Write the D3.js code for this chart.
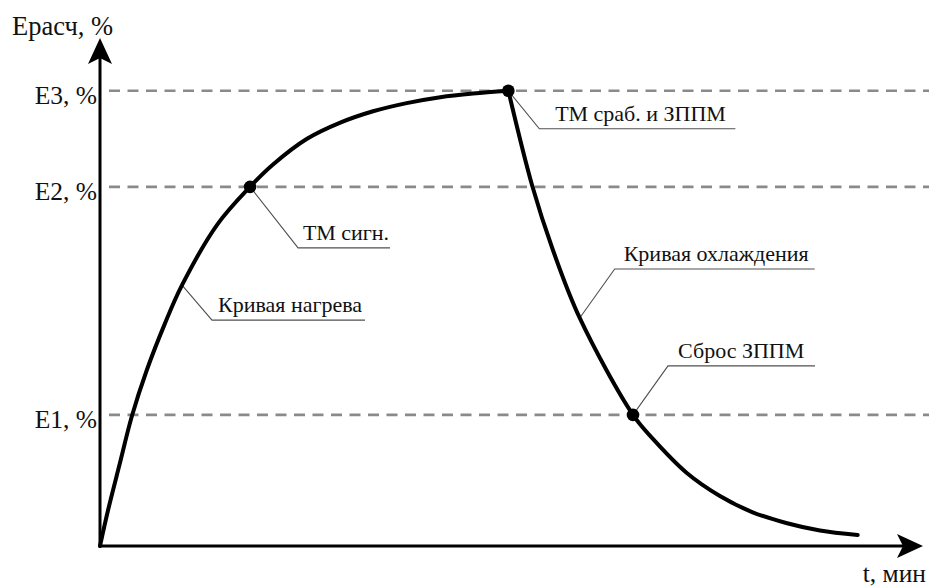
<!DOCTYPE html>
<html>
<head>
<meta charset="utf-8">
<script src="https://cdn.jsdelivr.net/npm/d3@7"></script>
<style>
  html, body { margin: 0; padding: 0; background: #fff; }
  svg { display: block; }
</style>
</head>
<body>
<svg id="chart" width="929" height="587"></svg>
<script>
// ---- data ----
// heating curve: time, min / Ерасч, %
const heatT = [0, 1.0, 2.4, 3.9, 5.7, 7.9, 10.0, 14.3, 18.3, 21.1, 25.2, 29.3, 33.3, 37.4, 41.5, 45.5, 49.8];
const heatE = [0, 8.0, 18.0, 28.6, 38.6, 48.8, 57.3, 70.6, 78.9, 83.8, 89.4, 93.0, 95.5, 97.3, 98.6, 99.4, 100];
// cooling curve
const coolT = [49.8, 52.7, 55.2, 58.5, 65.0, 67.4, 71.6, 75.6, 79.6, 83.8, 87.8, 92.4];
const coolE = [100, 79.2, 65.2, 50.1, 28.8, 23.6, 16.0, 11.0, 7.4, 5.0, 3.4, 2.4];
// threshold levels
const levelLabels = ["E1, %", "E2, %", "E3, %"];
const levelValues = [28.8, 78.9, 100];
// marked points
const pointT = [18.3, 49.8, 65.0];
const pointE = [78.9, 100, 28.8];
// annotation texts and the point each one refers to
const noteTexts = ["ТМ сигн.", "Кривая нагрева", "ТМ сраб. и ЗППМ", "Кривая охлаждения", "Сброс ЗППМ"];
const noteT = [18.3, 10.0, 49.8, 58.5, 65.0];
const noteE = [78.9, 57.3, 100, 50.1, 28.8];
const axisLabelY = "Ерасч, %";
const axisLabelX = "t, мин";
const tMax = 100, eMax = 111.6;

// ---- layout ----
const FONT = '"Liberation Serif", "Times New Roman", Times, serif';
const svg = d3.select("#chart");
const x = d3.scaleLinear().domain([0, tMax]).range([100, 920]);
const y = d3.scaleLinear().domain([0, eMax]).range([546, 38]);

// dashed level lines
svg.append("g").selectAll("line").data(levelValues).join("line")
  .attr("x1", x(0) + 9).attr("x2", 929)
  .attr("y1", d => y(d)).attr("y2", d => y(d))
  .attr("stroke", "#8a8a8a").attr("stroke-width", 2.6)
  .attr("stroke-dasharray", "11,7.5");

// level labels via d3 axis
const yAxis = d3.axisLeft(y).tickValues(levelValues)
  .tickFormat((d, i) => levelLabels[i]).tickSize(0).tickPadding(3);
const gy = svg.append("g").attr("transform", `translate(${x(0)},0)`).call(yAxis);
gy.attr("font-family", FONT).attr("font-size", 25.5);
gy.select(".domain").remove();
gy.selectAll("text").attr("fill", "#111").attr("dy", "0.5em");

// axes with arrows
const ax = svg.append("g");
ax.append("line").attr("x1", x(0)).attr("y1", y(0)).attr("x2", x(0)).attr("y2", y(eMax) + 10)
  .attr("stroke", "#000").attr("stroke-width", 3);
ax.append("line").attr("x1", x(0) - 1.5).attr("y1", y(0)).attr("x2", x(tMax) - 8).attr("y2", y(0))
  .attr("stroke", "#000").attr("stroke-width", 3);
const yt = [x(0), y(eMax)];
ax.append("path")
  .attr("d", `M${yt[0]},${yt[1]} L${yt[0] + 12},${yt[1] + 26} L${yt[0]},${yt[1] + 20} L${yt[0] - 12},${yt[1] + 26} Z`)
  .attr("fill", "#000");
const xt = [x(tMax) + 3, y(0)];
ax.append("path")
  .attr("d", `M${xt[0]},${xt[1]} L${xt[0] - 26},${xt[1] - 12} L${xt[0] - 20},${xt[1]} L${xt[0] - 26},${xt[1] + 12} Z`)
  .attr("fill", "#000");

// axis labels
svg.append("text").attr("x", 12).attr("y", 35).attr("font-size", 26.5)
  .attr("font-family", FONT).attr("fill", "#111").text(axisLabelY);
svg.append("text").attr("x", 926).attr("y", 582).attr("text-anchor", "end")
  .attr("font-size", 25.5).attr("font-family", FONT).attr("fill", "#111").text(axisLabelX);

// annotations: leader offsets (px) relative to anchor
const noteElbow = [[48, 61], [30, 35], [31, 38], [35, -49], [35, -49]];
const noteLen = [92, 153, 196, 200, 147];
const noteTextDx = [5, 6, 16, 9, 10];
const gn = svg.append("g");
noteTexts.forEach((t, i) => {
  const ax0 = x(noteT[i]), ay0 = y(noteE[i]);
  const ex = ax0 + noteElbow[i][0], ey = ay0 + noteElbow[i][1];
  gn.append("path")
    .attr("d", `M${ax0},${ay0} L${ex},${ey} L${ex + noteLen[i]},${ey}`)
    .attr("fill", "none").attr("stroke", "#505050").attr("stroke-width", 1.1);
  gn.append("text").attr("x", ex + noteTextDx[i]).attr("y", ey - 8)
    .attr("font-size", 22).attr("font-family", FONT).attr("fill", "#111").text(t);
});

// curves
const line = d3.line().x(d => x(d[0])).y(d => y(d[1])).curve(d3.curveCatmullRom.alpha(0.5));
svg.append("path").datum(heatT.map((t, i) => [t, heatE[i]]))
  .attr("d", line).attr("fill", "none").attr("stroke", "#000").attr("stroke-width", 4)
  .attr("stroke-linecap", "round");
svg.append("path").datum(coolT.map((t, i) => [t, coolE[i]]))
  .attr("d", line).attr("fill", "none").attr("stroke", "#000").attr("stroke-width", 4)
  .attr("stroke-linecap", "round");

// marked points
svg.append("g").selectAll("circle").data(pointT).join("circle")
  .attr("cx", d => x(d)).attr("cy", (d, i) => y(pointE[i])).attr("r", 6.3)
  .attr("fill", "#000");
</script>
</body>
</html>
